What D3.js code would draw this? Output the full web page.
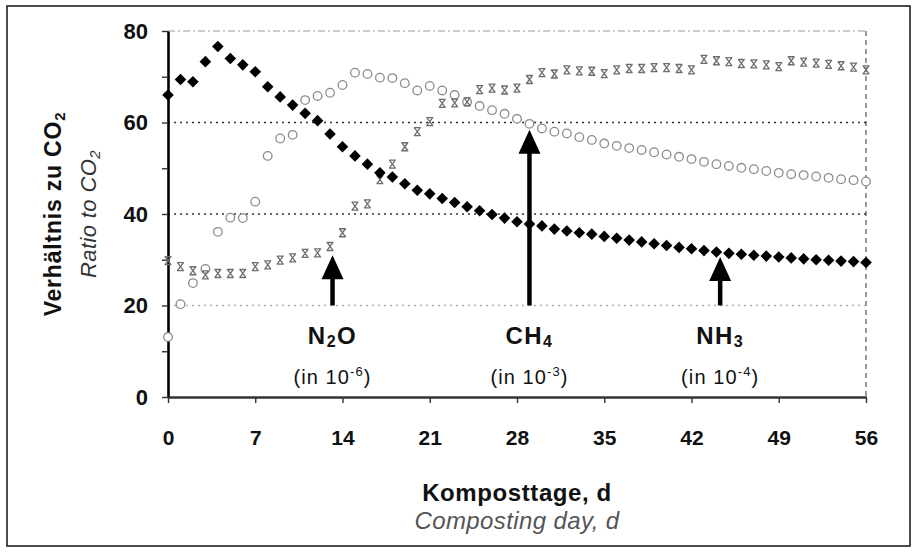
<!DOCTYPE html>
<html>
<head>
<meta charset="utf-8">
<script src="https://cdn.jsdelivr.net/npm/d3@7"></script>
<style>
  body { margin: 0; background: #fff; }
  text { font-family: "Liberation Sans", Arial, sans-serif; }
</style>
</head>
<body>
<svg id="chart" width="917" height="552"></svg>
<script>
// composting days 0..56
const days = d3.range(0, 57);

// NH3 / CO2 (in 10^-4), filled diamonds
const nh3 = [66.0, 69.4, 68.9, 73.3, 76.6, 74.0, 72.6, 71.1, 67.8, 65.6,
  63.8, 62.0, 60.4, 57.5, 54.7, 52.7, 50.9, 49.0, 48.1, 46.6,
  45.2, 44.4, 43.4, 42.5, 41.6, 40.7, 39.9, 39.1, 38.3, 37.8,
  37.4, 36.7, 36.3, 35.9, 35.6, 35.1, 34.7, 34.3, 33.9, 33.5,
  33.1, 32.7, 32.4, 32.0, 31.7, 31.4, 31.2, 31.0, 30.8, 30.6,
  30.4, 30.2, 30.0, 29.9, 29.7, 29.6, 29.4];

// CH4 / CO2 (in 10^-3), open circles
const ch4 = [13.1, 20.3, 24.9, 28.0, 36.1, 39.2, 39.1, 42.7, 52.7, 56.5,
  57.3, 64.9, 65.8, 66.5, 68.2, 70.9, 70.6, 69.8, 69.7, 68.6,
  67.0, 68.0, 67.0, 66.0, 64.5, 63.6, 62.7, 61.9, 60.8, 59.7,
  58.7, 58.0, 57.6, 56.8, 56.2, 55.4, 54.9, 54.4, 54.0, 53.5,
  53.0, 52.5, 52.0, 51.4, 50.9, 50.5, 50.1, 49.8, 49.4, 49.0,
  48.7, 48.5, 48.2, 47.9, 47.6, 47.4, 47.1];

// N2O / CO2 (in 10^-6), crosses
const n2o = [29.8, 28.5, 27.6, 26.7, 27.0, 27.0, 27.0, 28.5, 28.9, 29.9,
  30.4, 31.4, 31.5, 32.9, 35.9, 41.7, 42.2, 47.5, 50.9, 54.7,
  58.0, 60.2, 64.2, 64.3, 64.5, 67.2, 67.5, 67.1, 67.5, 69.4,
  70.9, 70.6, 71.5, 71.3, 71.2, 70.7, 71.5, 71.8, 71.8, 72.0,
  72.0, 71.8, 71.5, 73.8, 73.5, 73.3, 72.9, 72.8, 72.6, 72.2,
  73.5, 73.2, 73.0, 72.7, 72.4, 72.1, 71.5];

const xTicks = [0, 7, 14, 21, 28, 35, 42, 49, 56];
const yTicks = [0, 10, 20, 30, 40, 50, 60, 70, 80];

// arrows: gas label, exponent, day, tip value
const arrowGas = [["N", "2", "O"], ["CH", "4", ""], ["NH", "3", ""]];
const arrowExp = ["-6", "-3", "-4"];
const arrowDay = [13.2, 29.0, 44.3];
const arrowTip = [31.0, 58.4, 30.6];
const arrowBase = 20;

const svg = d3.select("#chart");

const x = d3.scaleLinear().domain([0, 56]).range([168, 866]);
const y = d3.scaleLinear().domain([0, 80]).range([397, 31]);

// outer frame
svg.append("rect")
    .attr("x", 7).attr("y", 6)
    .attr("width", 903).attr("height", 540)
    .attr("fill", "none")
    .attr("stroke", "#111")
    .attr("stroke-width", 1.5);

// grid lines
svg.append("line")
    .attr("x1", x(0)).attr("x2", x(56))
    .attr("y1", y(80)).attr("y2", y(80))
    .attr("stroke", "#999").attr("stroke-width", 1.2)
    .attr("stroke-dasharray", "7,3,2,3");
svg.append("line")
    .attr("x1", x(56)).attr("x2", x(56))
    .attr("y1", y(80)).attr("y2", y(0))
    .attr("stroke", "#555").attr("stroke-width", 1.2)
    .attr("stroke-dasharray", "5,4");

svg.selectAll(".grid")
    .data([20, 40, 60])
    .enter().append("line")
    .attr("class", "grid")
    .attr("x1", x(0)).attr("x2", x(56))
    .attr("y1", d => y(d)).attr("y2", d => y(d))
    .attr("stroke", d => d === 20 ? "#b0b0b0" : "#333")
    .attr("stroke-width", 1.3)
    .attr("stroke-dasharray", "2,4");

// axes
const yAxis = svg.append("g")
    .attr("transform", `translate(${x(0)},0)`)
    .call(d3.axisLeft(y).tickValues(yTicks).tickSize(6).tickSizeOuter(0).tickPadding(14)
        .tickFormat(d => d % 20 === 0 ? d : ""));
yAxis.select(".domain").attr("stroke", "#000").attr("stroke-width", 2.6);
yAxis.selectAll(".tick line").attr("stroke", "#333").attr("stroke-width", 1.4);
yAxis.selectAll(".tick text")
    .attr("font-size", 22).attr("font-weight", "bold").attr("fill", "#111")
    .style("font-family", "'Liberation Sans', Arial, sans-serif");

const xAxis = svg.append("g")
    .attr("transform", `translate(0,${y(0)})`)
    .call(d3.axisBottom(x).tickValues(xTicks).tickSize(6).tickSizeOuter(0).tickPadding(27));
xAxis.select(".domain").attr("stroke", "#333").attr("stroke-width", 2.6);
xAxis.selectAll(".tick line").attr("stroke", "#333").attr("stroke-width", 1.4);
xAxis.selectAll(".tick text")
    .attr("font-size", 21).attr("font-weight", "bold").attr("fill", "#111")
    .style("font-family", "'Liberation Sans', Arial, sans-serif");

// CH4 circles
svg.selectAll(".ch4")
    .data(days)
    .enter().append("circle")
    .attr("class", "ch4")
    .attr("cx", d => x(d))
    .attr("cy", d => y(ch4[d]))
    .attr("r", 4.3)
    .attr("fill", "#fff")
    .attr("stroke", "#8c8c8c")
    .attr("stroke-width", 1.3);

// N2O crosses
svg.selectAll(".n2o")
    .data(days)
    .enter().append("path")
    .attr("class", "n2o")
    .attr("transform", d => `translate(${x(d)},${y(n2o[d])})`)
    .attr("d", "M-3.5,-4H3.5M-3.5,4H3.5M-3,-4L3,4M3,-4L-3,4")
    .attr("fill", "none")
    .attr("stroke", "#6e6e6e")
    .attr("stroke-width", 1.3);

// NH3 diamonds
svg.selectAll(".nh3")
    .data(days)
    .enter().append("path")
    .attr("class", "nh3")
    .attr("transform", d => `translate(${x(d)},${y(nh3[d])})`)
    .attr("d", "M0,-5.8L5.8,0L0,5.8L-5.8,0Z")
    .attr("fill", "#000");

// arrows and labels
arrowDay.forEach((day, i) => {
    const ax = x(day);
    const tip = y(arrowTip[i]);
    svg.append("line")
        .attr("x1", ax).attr("x2", ax)
        .attr("y1", y(arrowBase)).attr("y2", tip + 20)
        .attr("stroke", "#000").attr("stroke-width", 4.5);
    svg.append("path")
        .attr("d", `M${ax},${tip}L${ax + 11},${tip + 24}L${ax - 11},${tip + 24}Z`)
        .attr("fill", "#000");

    const g = svg.append("text")
        .attr("x", ax).attr("y", 344)
        .attr("text-anchor", "middle")
        .attr("font-size", 24).attr("font-weight", "bold").attr("fill", "#111")
        .attr("letter-spacing", 1.5);
    g.append("tspan").text(arrowGas[i][0]);
    g.append("tspan").attr("font-size", 16).attr("dy", 3).text(arrowGas[i][1]);
    if (arrowGas[i][2]) g.append("tspan").attr("dy", -3).text(arrowGas[i][2]);

    const u = svg.append("text")
        .attr("x", ax).attr("y", 384)
        .attr("text-anchor", "middle")
        .attr("font-size", 20).attr("fill", "#111")
        .attr("letter-spacing", 1.1);
    u.append("tspan").text("(in 10");
    u.append("tspan").attr("font-size", 13).attr("dy", -8).text(arrowExp[i]);
    u.append("tspan").attr("dy", 8).text(")");
});

// axis titles
svg.append("text")
    .attr("x", (x(0) + x(56)) / 2).attr("y", 501)
    .attr("text-anchor", "middle")
    .attr("font-size", 24).attr("font-weight", "bold").attr("fill", "#111")
    .attr("letter-spacing", 0.6)
    .text("Komposttage, d");
svg.append("text")
    .attr("x", (x(0) + x(56)) / 2).attr("y", 529)
    .attr("text-anchor", "middle")
    .attr("font-size", 24).attr("font-style", "italic").attr("fill", "#555")
    .attr("letter-spacing", 0.4)
    .text("Composting day, d");

const yt1 = svg.append("text")
    .attr("transform", `translate(61,${(y(0) + y(80)) / 2}) rotate(-90)`)
    .attr("text-anchor", "middle")
    .attr("font-size", 23).attr("font-weight", "bold").attr("fill", "#111")
    .attr("letter-spacing", 0.8);
yt1.append("tspan").text("Verhältnis zu CO");
yt1.append("tspan").attr("font-size", 15).attr("dy", 4).text("2");

const yt2 = svg.append("text")
    .attr("transform", `translate(96,${(y(0) + y(80)) / 2}) rotate(-90)`)
    .attr("text-anchor", "middle")
    .attr("font-size", 22).attr("font-style", "italic").attr("fill", "#333")
    .attr("letter-spacing", 0.4);
yt2.append("tspan").text("Ratio to CO");
yt2.append("tspan").attr("font-size", 15).attr("dy", 4).text("2");
</script>
</body>
</html>
